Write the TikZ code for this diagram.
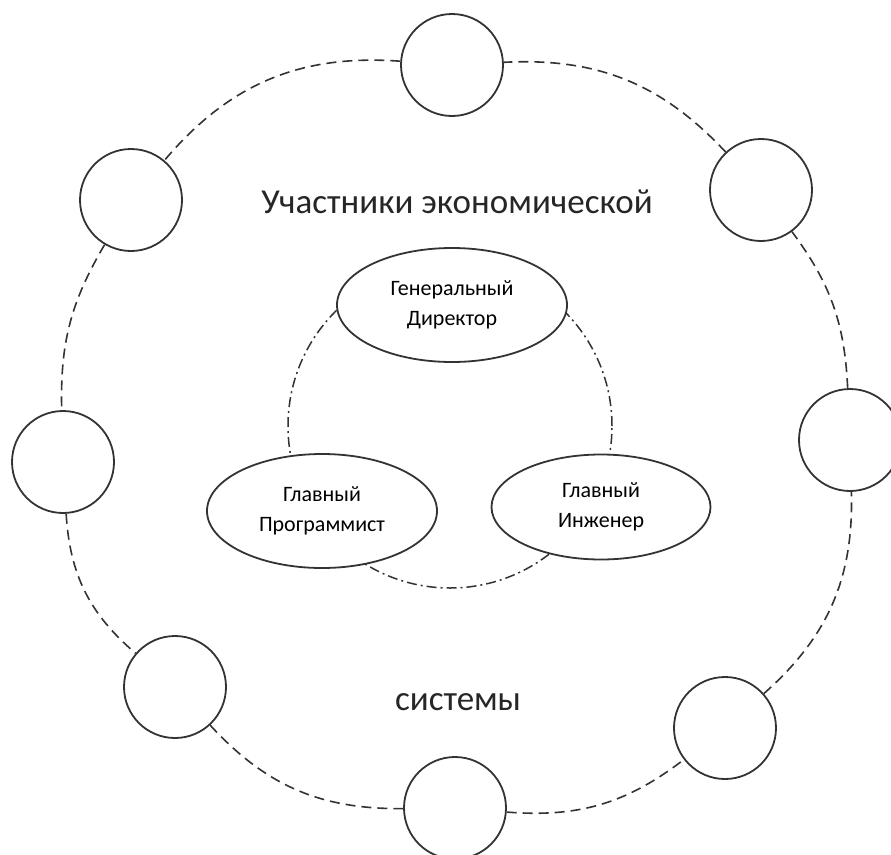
\documentclass[tikz,border=0pt]{standalone}
\usepackage{fontspec}
\setmainfont{Carlito}
\usetikzlibrary{shapes.geometric}
\begin{document}
\begin{tikzpicture}[x=1pt,y=-1pt,
  member/.style={circle,draw=black!80,line width=1.8pt,fill=white,minimum size=102pt,inner sep=0pt},
  chief/.style={ellipse,draw=black!80,line width=1.8pt,fill=white,inner sep=0pt,align=center,font=\fontsize{22}{30}\selectfont},
  link/.style={draw=black!80,line width=1.6pt,dash pattern=on 10pt off 6pt},
  title/.style={anchor=base,text=black!85,font=\fontsize{35}{40}\selectfont}]
\useasboundingbox (0,0) rectangle (891,854);
\coordinate (C) at (450,426);
\draw[black!80,line width=1.5pt,dash pattern=on 10pt off 4pt on 2pt off 4pt] (C) circle (162pt);
\node[chief,minimum width=230pt,minimum height=114pt] (GD) at (452,305) {Генеральный\\Директор};
\node[chief,minimum width=230pt,minimum height=114pt] (GP) at (322,511) {Главный\\Программист};
\node[chief,minimum width=219pt,minimum height=105pt] (GI) at (601,507) {Главный\\Инженер};
\node[title] (top) at (457,213) {Участники экономической};
\node[title] (bottom) at (458,710) {системы};
\node[member] (T) at (452,65) {};
\node[member] (UL) at (131,200) {};
\node[member] (L) at (63,462) {};
\node[member] (LL) at (175,687) {};
\node[member] (B) at (455,808) {};
\node[member] (LR) at (725,728) {};
\node[member] (R) at (850,440) {};
\node[member] (UR) at (761,190) {};
\draw[link] (T) to[bend right=27] (UL);
\draw[link] (UL) to[bend right=16] (L);
\draw[link] (L) to[bend right=23] (LL);
\draw[link] (LL) to[bend right=24] (B);
\draw[link] (B) to[bend right=21] (LR);
\draw[link] (LR) to[bend right=25] (R);
\draw[link] (R) to[bend right=17] (UR);
\draw[link] (UR) to[bend right=25] (T);
\end{tikzpicture}
\end{document}
